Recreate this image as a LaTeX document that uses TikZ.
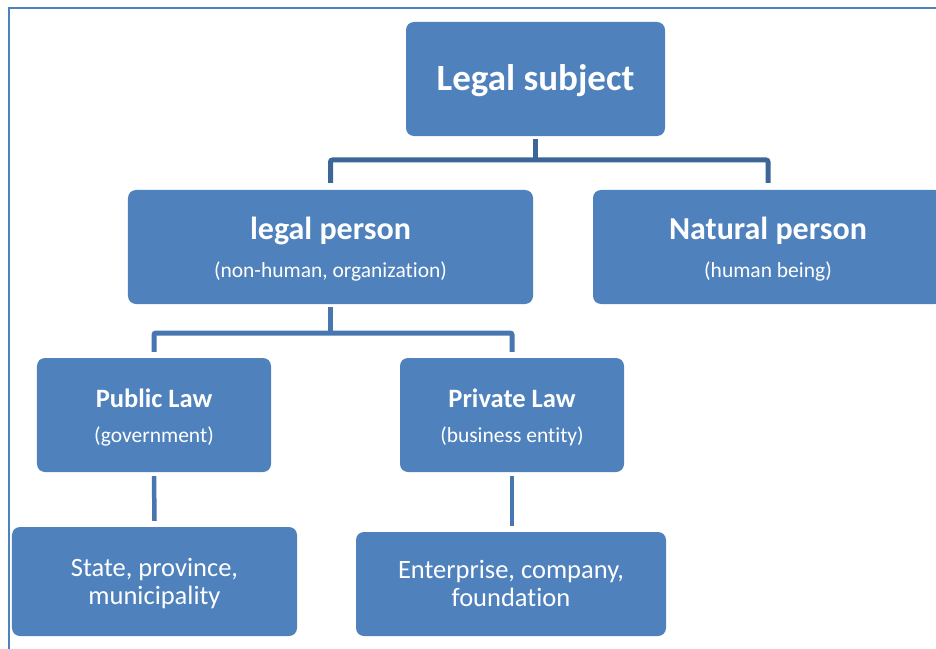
\documentclass[tikz,border=0pt]{standalone}
\usepackage{fontspec}
\setmainfont{Carlito}[Ligatures=NoCommon]
\definecolor{boxblue}{HTML}{4F81BD}
\definecolor{busblue}{HTML}{3D6698}
\definecolor{stemblue}{HTML}{4876B1}
\begin{document}
\begin{tikzpicture}[x=1bp,y=-1bp,
  box/.style={fill=boxblue, rounded corners=8bp, inner sep=0pt},
  bus/.style={draw=busblue, line width=5bp},
  stem/.style={draw=stemblue, line width=4.5bp},
  lbl/.style={text=white, anchor=base, inner sep=0pt},
  bigtitle/.style={lbl, font=\fontsize{37bp}{44bp}\selectfont\bfseries},
  midtitle/.style={lbl, font=\fontsize{32bp}{38bp}\selectfont\bfseries},
  smalltitle/.style={lbl, font=\fontsize{26.5bp}{32bp}\selectfont\bfseries},
  subtext/.style={lbl, font=\fontsize{21.5bp}{26bp}\selectfont},
  leaftext/.style={lbl, font=\fontsize{26.5bp}{32bp}\selectfont}]
\useasboundingbox (0,0) rectangle (936,649);

% frame lines
\draw[boxblue, line width=2.5bp] (9,649) -- (9,8) -- (936,8);

% boxes
\node[box, minimum width=259bp, minimum height=114bp] (subject) at (535.5,79) {};
\node[box, minimum width=405bp, minimum height=114bp] (legal) at (330.5,247) {};
\node[box, minimum width=350bp, minimum height=114bp] (natural) at (768,247) {};
\node[box, minimum width=234bp, minimum height=114bp] (public) at (154,415) {};
\node[box, minimum width=224bp, minimum height=114bp] (private) at (512,415) {};
\node[box, minimum width=285bp, minimum height=109bp] (state) at (154.5,581.5) {};
\node[box, minimum width=310bp, minimum height=104bp] (enterprise) at (511,584) {};

% texts
\node[bigtitle] (tsubject) at (535.5,90.5) {Legal subject};
\node[midtitle] (tlegal) at (330.5,239) {legal person};
\node[subtext] (slegal) at (330.5,277.5) {(non-human, organization)};
\node[midtitle] (tnatural) at (768,239) {Natural person};
\node[subtext] (snatural) at (768,277.5) {(human being)};
\node[smalltitle] (tpublic) at (154,407.5) {Public Law};
\node[subtext] (spublic) at (154,442.5) {(government)};
\node[smalltitle] (tprivate) at (512,407.5) {Private Law};
\node[subtext] (sprivate) at (512,442.5) {(business entity)};
\node[leaftext] (tstate1) at (154.5,576) {State, province,};
\node[leaftext] (tstate2) at (154.5,604) {municipality};
\node[leaftext] (tent1) at (511,578) {Enterprise, company,};
\node[leaftext] (tent2) at (511,606) {foundation};

% connectors
\draw[bus] ([yshift=-3bp]subject.south) -- (subject.south |- 0,160);
\draw[bus, rounded corners=2bp] ([yshift=7bp]legal.north) -- (legal.north |- 0,160)
  -- (natural.north |- 0,160) -- ([yshift=7bp]natural.north);
\draw[bus, draw=stemblue] ([yshift=-3bp]legal.south) -- (legal.south |- 0,333);
\draw[bus, draw=stemblue, rounded corners=2bp] ([yshift=6bp]public.north) -- (public.north |- 0,333)
  -- (private.north |- 0,333) -- ([yshift=6bp]private.north);
\draw[stem] ([yshift=-4bp]public.south) -- ([yshift=6bp]state.north);
\draw[stem] ([yshift=-4bp]private.south) -- ([yshift=6bp]private.south |- enterprise.north);
\end{tikzpicture}
\end{document}
